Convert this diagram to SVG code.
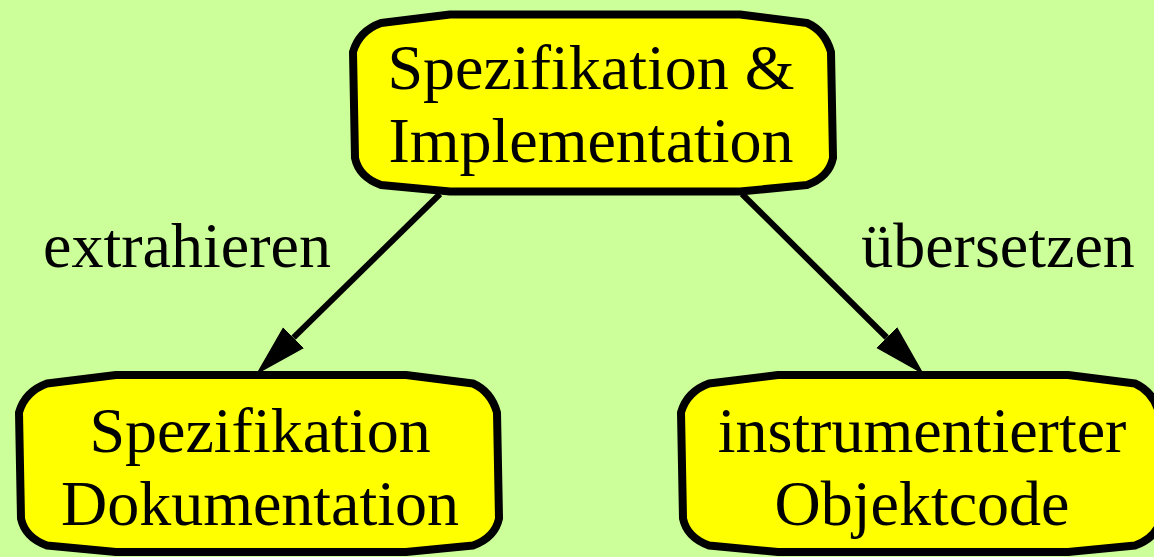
<svg xmlns="http://www.w3.org/2000/svg" width="1154" height="557" viewBox="0 0 1154 557">
  <style>
    .box { fill: #ffff00; stroke: #000; stroke-width: 8; stroke-linejoin: round; }
    .lbl { font-family: "Liberation Serif", "Times New Roman", serif; font-size: 64px; fill: #000; text-anchor: middle; }
    .edge { fill: none; stroke: #000; stroke-width: 6; }
  </style>
  <defs>
    <!-- rounded box outline, centred on 0,0 -->
    <path id="roundbox" d="M -212,-80 L -143,-88.5 L 147,-88.5 L 214,-80 Q 232,-72 238,-51 L 240,55 Q 236,74 214,82 L 147,88.5 L -143,88.5 L -212,82 Q -234,74 -238,55 L -240,-51 Q -234,-72 -212,-80 Z"/>
    <marker id="arrow" viewBox="0 -15 52 30" refX="0" refY="0" markerWidth="52" markerHeight="30" markerUnits="userSpaceOnUse" orient="auto">
      <path d="M 0,-14 L 50,0 L 0,14 Z" fill="#000" stroke="#000" stroke-width="1.5"/>
    </marker>
  </defs>

  <rect width="1154" height="557" fill="#ccff99"/>

  <g id="connectors">
    <g id="edge-extrahieren">
      <line class="edge" x1="440" y1="194" x2="293.5" y2="337.7" marker-end="url(#arrow)"/>
      <text class="lbl" x="187" y="267">extrahieren</text>
    </g>
    <g id="edge-uebersetzen">
      <line class="edge" x1="742" y1="194" x2="886.7" y2="337.5" marker-end="url(#arrow)"/>
      <text class="lbl" x="998" y="267">übersetzen</text>
    </g>
  </g>

  <g id="node-spec-impl">
    <use href="#roundbox" class="box" transform="translate(593,103)"/>
    <text class="lbl" x="591" y="89">Spezifikation &amp;</text>
    <text class="lbl" x="591" y="162">Implementation</text>
  </g>

  <g id="node-spec-doc">
    <use href="#roundbox" class="box" transform="translate(259,463.5)"/>
    <text class="lbl" x="260" y="452">Spezifikation</text>
    <text class="lbl" x="260" y="525">Dokumentation</text>
  </g>

  <g id="node-objektcode">
    <use href="#roundbox" class="box" transform="translate(921,463.5)"/>
    <text class="lbl" x="922" y="452">instrumentierter</text>
    <text class="lbl" x="922" y="525">Objektcode</text>
  </g>
</svg>
